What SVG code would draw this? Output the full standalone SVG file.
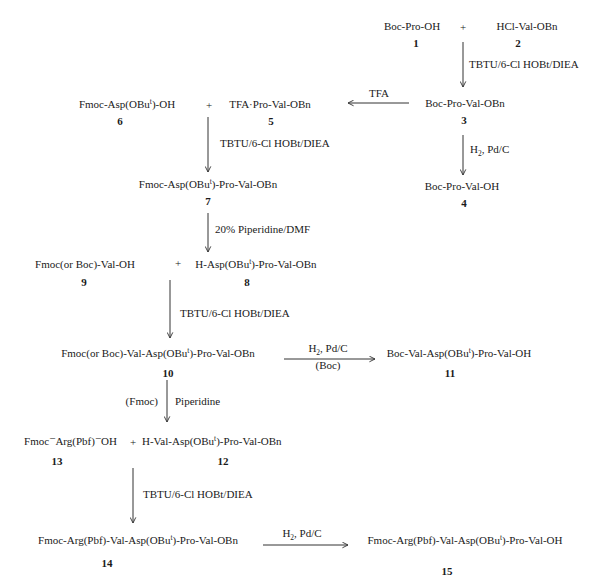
<svg xmlns="http://www.w3.org/2000/svg" width="600" height="581" viewBox="0 0 600 581">
<style>
text{font-family:"Liberation Serif","DejaVu Serif",serif;font-size:11px;fill:#1a1a1a}
.m{text-anchor:middle}
.e{text-anchor:end}
.n{font-weight:bold;text-anchor:middle}
.c{stroke:#333;stroke-width:1;fill:none}
</style>
<defs>
<marker id="ah" viewBox="0 0 10 10" refX="9" refY="5" markerWidth="7" markerHeight="7" orient="auto" markerUnits="userSpaceOnUse">
<path d="M1,1 L9,5 L1,9" fill="none" stroke="#333" stroke-width="1.3"/>
</marker>
</defs>
<rect width="600" height="581" fill="#fff"/>
<g id="connectors">
<line class="c" x1="463" y1="42" x2="463" y2="87" marker-end="url(#ah)"/>
<line class="c" x1="463" y1="135" x2="463" y2="175" marker-end="url(#ah)"/>
<line class="c" x1="409" y1="103" x2="348" y2="103" marker-end="url(#ah)"/>
<line class="c" x1="208" y1="117" x2="208" y2="172" marker-end="url(#ah)"/>
<line class="c" x1="208" y1="213" x2="208" y2="252" marker-end="url(#ah)"/>
<line class="c" x1="170" y1="280" x2="170" y2="338" marker-end="url(#ah)"/>
<line class="c" x1="284" y1="359" x2="375" y2="359" marker-end="url(#ah)"/>
<line class="c" x1="167" y1="380" x2="167" y2="422" marker-end="url(#ah)"/>
<line class="c" x1="133" y1="468" x2="133" y2="523" marker-end="url(#ah)"/>
<line class="c" x1="263" y1="545" x2="348" y2="545" marker-end="url(#ah)"/>
<text x="469" y="68">TBTU/6-Cl HOBt/DIEA</text>
<text x="470" y="153">H<tspan font-size="7.5" dy="2.5">2</tspan><tspan dy="-2.5">, Pd/C</tspan></text>
<text class="m" x="379" y="97">TFA</text>
<text x="220" y="147">TBTU/6-Cl HOBt/DIEA</text>
<text x="215" y="233">20% Piperidine/DMF</text>
<text x="180" y="317">TBTU/6-Cl HOBt/DIEA</text>
<text class="m" x="328" y="352">H<tspan font-size="7.5" dy="2.5">2</tspan><tspan dy="-2.5">, Pd/C</tspan></text>
<text class="m" x="328" y="369">(Boc)</text>
<text class="e" x="158" y="405">(Fmoc)</text>
<text x="175" y="405">Piperidine</text>
<text x="143" y="498">TBTU/6-Cl HOBt/DIEA</text>
<text class="m" x="302" y="537">H<tspan font-size="7.5" dy="2.5">2</tspan><tspan dy="-2.5">, Pd/C</tspan></text>
</g>
<g id="plus">
<text class="m" x="463" y="31">+</text>
<text class="m" x="209" y="109">+</text>
<text class="m" x="178" y="267">+</text>
<text class="m" x="133" y="446">+</text>
</g>
<g id="n1"><text class="m" x="412" y="30">Boc-Pro-OH</text><text class="n" x="416" y="47">1</text></g>
<g id="n2"><text class="m" x="527" y="30">HCl-Val-OBn</text><text class="n" x="518" y="47">2</text></g>
<g id="n3"><text class="m" x="465" y="107">Boc-Pro-Val-OBn</text><text class="n" x="464" y="124">3</text></g>
<g id="n4"><text class="m" x="462" y="190">Boc-Pro-Val-OH</text><text class="n" x="464" y="207">4</text></g>
<g id="n5"><text class="m" x="270" y="108">TFA·Pro-Val-OBn</text><text class="n" x="271" y="125">5</text></g>
<g id="n6"><text class="m" x="127" y="108">Fmoc-Asp(OBu<tspan font-size="7.5" dy="-4">t</tspan><tspan dy="4">)-OH</tspan></text><text class="n" x="120" y="125">6</text></g>
<g id="n7"><text class="m" x="208" y="188">Fmoc-Asp(OBu<tspan font-size="7.5" dy="-4">t</tspan><tspan dy="4">)-Pro-Val-OBn</tspan></text><text class="n" x="208" y="205">7</text></g>
<g id="n8"><text class="m" x="256" y="268">H-Asp(OBu<tspan font-size="7.5" dy="-4">t</tspan><tspan dy="4">)-Pro-Val-OBn</tspan></text><text class="n" x="247" y="286">8</text></g>
<g id="n9"><text class="m" x="85" y="268">Fmoc(or Boc)-Val-OH</text><text class="n" x="84" y="286">9</text></g>
<g id="n10"><text class="m" x="158" y="357">Fmoc(or Boc)-Val-Asp(OBu<tspan font-size="7.5" dy="-4">t</tspan><tspan dy="4">)-Pro-Val-OBn</tspan></text><text class="n" x="168" y="377">10</text></g>
<g id="n11"><text class="m" x="459" y="357">Boc-Val-Asp(OBu<tspan font-size="7.5" dy="-4">t</tspan><tspan dy="4">)-Pro-Val-OH</tspan></text><text class="n" x="450" y="377">11</text></g>
<g id="n12"><text x="142" y="445">H-Val-Asp(OBu<tspan font-size="7.5" dy="-4">t</tspan><tspan dy="4">)-Pro-Val-OBn</tspan></text><text class="n" x="223" y="465">12</text></g>
<g id="n13"><text class="e" x="117" y="445">Fmoc<tspan dy="-3">−</tspan><tspan dy="3">Arg(Pbf)</tspan><tspan dy="-3">−</tspan><tspan dy="3">OH</tspan></text><text class="n" x="57" y="465">13</text></g>
<g id="n14"><text class="m" x="138" y="544">Fmoc-Arg(Pbf)-Val-Asp(OBu<tspan font-size="7.5" dy="-4">t</tspan><tspan dy="4">)-Pro-Val-OBn</tspan></text><text class="n" x="107" y="567">14</text></g>
<g id="n15"><text class="m" x="465" y="544">Fmoc-Arg(Pbf)-Val-Asp(OBu<tspan font-size="7.5" dy="-4">t</tspan><tspan dy="4">)-Pro-Val-OH</tspan></text><text class="n" x="447" y="575">15</text></g>
</svg>
